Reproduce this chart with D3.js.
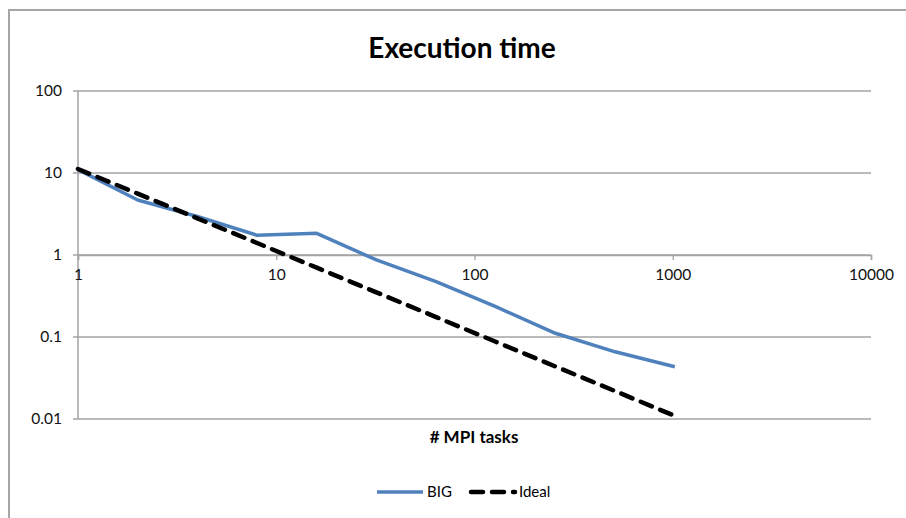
<!DOCTYPE html>
<html><head><meta charset="utf-8">
<script src="https://cdn.jsdelivr.net/npm/d3@7"></script>
<style>body{margin:0;background:#fff}svg{display:block}text{font-family:Lato,"Open Sans",sans-serif}</style>
</head><body>
<svg id="c" width="906" height="518"></svg>
<script>
const tasks = [1, 2, 4, 8, 16, 32, 64, 128, 256, 512, 1024];
const bigTimes = [11, 4.69, 2.95, 1.74, 1.84, 0.87, 0.473, 0.234, 0.111, 0.066, 0.0434];
const idealTimes = [11.2, 5.6, 2.8, 1.4, 0.7, 0.35, 0.175, 0.0875, 0.0437, 0.0219, 0.0109];
const xTicks = [1, 10, 100, 1000, 10000];
const yTicks = [0.01, 0.1, 1, 10, 100];
const yTickLabels = ["0.01", "0.1", "1", "10", "100"];
const seriesNames = ["BIG", "Ideal"];

const svg = d3.select("#c");
const x = d3.scaleLog().domain([1, 10000]).range([78, 871]);
const y = d3.scaleLog().domain([0.01, 100]).range([419, 91]);
const grid = "#a3a3a3";

// outer border (top & left)
svg.append("path").attr("d", "M9,518 V10 H906").attr("fill", "none").attr("stroke", "#a6a6a6").attr("stroke-width", 2);

// title
svg.append("text").attr("x", 462).attr("y", 58).attr("text-anchor", "middle")
  .attr("font-size", 28).attr("font-weight", "bold").text("Execution time");

// y gridlines + ticks
const gy = svg.append("g");
yTicks.forEach((v, i) => {
  gy.append("line").attr("x1", 73).attr("x2", 871).attr("y1", y(v)).attr("y2", y(v))
    .attr("stroke", grid).attr("stroke-width", 1.3);
  gy.append("text").attr("x", 62).attr("y", y(v)).attr("dy", "0.35em").attr("text-anchor", "end")
    .attr("font-size", 15.5).attr("fill", "#111").text(yTickLabels[i]);
});
// y axis line
svg.append("line").attr("x1", 78).attr("x2", 78).attr("y1", y(100)).attr("y2", y(0.01))
  .attr("stroke", grid).attr("stroke-width", 1.5);

// x axis at y=1
const gx = svg.append("g").attr("transform", `translate(0,${y(1)})`)
  .call(d3.axisBottom(x).tickValues(xTicks).tickFormat(d3.format("d")).tickSize(5).tickPadding(9));
gx.select(".domain").attr("stroke", grid).attr("stroke-width", 1.5);
gx.selectAll(".tick line").attr("stroke", grid).attr("stroke-width", 1.3);
gx.selectAll(".tick text").attr("font-size", 15.5).attr("fill", "#111").style("font-family", "Lato,sans-serif");

// x axis title
svg.append("text").attr("x", 474).attr("y", 443).attr("text-anchor", "middle")
  .attr("font-size", 17).attr("font-weight", "bold").text("# MPI tasks");

const line = d3.line().x(d => x(d[0])).y(d => y(d[1]));
svg.append("path").datum(tasks.map((t, i) => [t, bigTimes[i]]))
  .attr("d", line).attr("fill", "none").attr("stroke", "#4f81bd").attr("stroke-width", 3.5)
  .attr("stroke-linejoin", "round");
svg.append("path").datum(tasks.map((t, i) => [t, idealTimes[i]]))
  .attr("d", line).attr("fill", "none").attr("stroke", "#000").attr("stroke-width", 4.5)
  .attr("stroke-dasharray", "12,9").attr("stroke-linecap", "round");

// legend
const lg = svg.append("g");
lg.append("line").attr("x1", 377).attr("x2", 423).attr("y1", 492).attr("y2", 492)
  .attr("stroke", "#4f81bd").attr("stroke-width", 3.5);
lg.append("text").attr("x", 427).attr("y", 492).attr("dy", "0.35em").attr("font-size", 15).text(seriesNames[0]);
lg.append("line").attr("x1", 471).attr("x2", 515).attr("y1", 492).attr("y2", 492)
  .attr("stroke", "#000").attr("stroke-width", 4.5).attr("stroke-dasharray", "12,9").attr("stroke-linecap", "round");
lg.append("text").attr("x", 519).attr("y", 492).attr("dy", "0.35em").attr("font-size", 15).text(seriesNames[1]);
</script>
</body></html>
